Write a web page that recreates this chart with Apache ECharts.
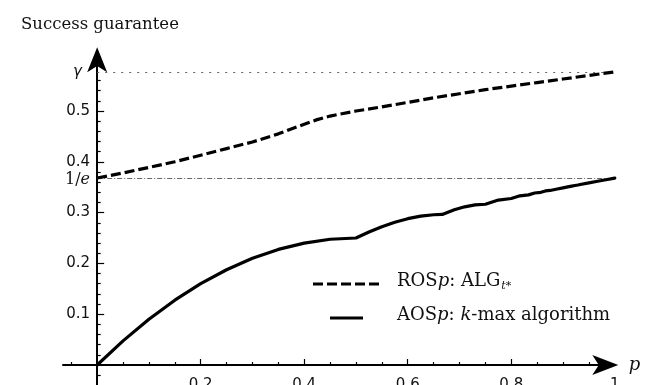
<!DOCTYPE html>
<html>
<head>
<meta charset="utf-8">
<script src="https://cdn.jsdelivr.net/npm/echarts@6/dist/echarts.min.js"></script>
<style>html,body{margin:0;padding:0;background:#fff}#c{width:653px;height:385px}</style>
</head>
<body>
<div id="c"></div>
<script>
// ---- data ----
const GAMMA = 0.577;
const INV_E = 0.3679;

const rosP = [0, 0.05, 0.1, 0.15, 0.2, 0.25, 0.3, 0.35, 0.4, 0.425, 0.45, 0.5, 0.55, 0.6, 0.65, 0.7, 0.75, 0.8, 0.85, 0.9, 0.95, 1.0];
const rosV = [0.368, 0.378, 0.389, 0.400, 0.413, 0.426, 0.439, 0.455, 0.474, 0.483, 0.490, 0.500, 0.508, 0.517, 0.526, 0.534, 0.542, 0.549, 0.556, 0.563, 0.570, 0.577];

const aosP = [0, 0.05, 0.1, 0.15, 0.2, 0.25, 0.3, 0.35, 0.4, 0.45, 0.5, 0.525, 0.55, 0.575, 0.6, 0.625, 0.65, 0.6667, 0.69, 0.71, 0.73, 0.75, 0.775, 0.8, 0.8167, 0.8333, 0.8452, 0.8571, 0.866, 0.875, 0.8889, 0.9, 0.9091, 0.9167, 0.9231, 0.9286, 0.9333, 0.95, 0.9667, 0.98, 1.0];
const aosV = [0, 0.0475, 0.09, 0.1275, 0.16, 0.1875, 0.21, 0.2275, 0.24, 0.2475, 0.25, 0.2618, 0.2723, 0.2810, 0.288, 0.2930, 0.2958, 0.2963, 0.3055, 0.3114, 0.3151, 0.3164, 0.3247, 0.3277, 0.3330, 0.3349, 0.3386, 0.3399, 0.3426, 0.3436, 0.3464, 0.3487, 0.3505, 0.3520, 0.3533, 0.3543, 0.3553, 0.3585, 0.3617, 0.3642, 0.3679];

const xMajorTicks = [0.2, 0.4, 0.6, 0.8];
const xMinorTicks = [-0.05, 0.05, 0.1, 0.15, 0.25, 0.3, 0.35, 0.45, 0.5, 0.55, 0.65, 0.7, 0.75, 0.85, 0.9, 0.95];
const xTickLabels = [0.2, 0.4, 0.6, 0.8, 1];
const yMajorTicks = [0.1, 0.2, 0.3, 0.4, 0.5];
const yMinorTicks = [-0.02, 0.02, 0.04, 0.06, 0.08, 0.12, 0.14, 0.16, 0.18, 0.22, 0.24, 0.26, 0.28, 0.32, 0.34, 0.36, 0.38, 0.42, 0.44, 0.46, 0.48, 0.52, 0.54, 0.56];
const yTickLabels = [0.1, 0.2, 0.3, 0.4, 0.5, INV_E, GAMMA];

const seriesNames = ['ROSp: ALG_t*', 'AOSp: k-max algorithm'];

const pairs = (xs, ys) => xs.map((x, i) => [x, ys[i]]);

const X_MIN = -0.066, X_MAX = 1.0, Y_MIN = -0.0394, Y_MAX = 0.6;
const SANS = 'DejaVu Sans';
const SERIF = 'DejaVu Serif';

const chart = echarts.init(document.getElementById('c'), null, {renderer: 'canvas'});

const xBase = {
  type: 'value', min: X_MIN, max: X_MAX, position: 'bottom',
  splitLine: {show: false}
};
const yBase = {
  type: 'value', min: Y_MIN, max: Y_MAX, position: 'left',
  splitLine: {show: false}
};

chart.setOption({
  animation: false,
  backgroundColor: '#fff',
  title: {
    text: 'Success guarantee', left: 16, top: 11,
    textStyle: {fontFamily: SERIF, fontSize: 16.5, fontWeight: 'normal', color: '#111'}
  },
  grid: {left: 63, right: 38.2, top: 60.2, bottom: 0, containLabel: false, outerBoundsMode: 'none'},
  xAxis: [
    Object.assign({}, xBase, {
      name: 'p', nameLocation: 'end', nameGap: 14,
      nameTextStyle: {fontFamily: SERIF, fontStyle: 'italic', fontSize: 18, color: '#111', verticalAlign: 'middle', padding: [4, 0, 0, 0]},
      axisLine: {show: true, onZero: true, onZeroAxisIndex: 0, lineStyle: {color: '#000', width: 2},
        symbol: ['none', 'arrow'], symbolSize: [15, 26], symbolOffset: [0, 3.5]},
      axisTick: {show: true, inside: true, length: 6, customValues: xMajorTicks, lineStyle: {color: '#000', width: 1.2}},
      axisLabel: {show: true, margin: -7, customValues: xTickLabels, fontFamily: SANS, fontSize: 15, color: '#111',
        hideOverlap: false,
        formatter: v => (v === 1 ? '1' : v.toFixed(1))}
    }),
    Object.assign({}, xBase, {
      axisLine: {show: false, onZero: true, onZeroAxisIndex: 0},
      axisTick: {show: true, inside: true, length: 3, customValues: xMinorTicks, lineStyle: {color: '#000', width: 1.2}},
      axisLabel: {show: false}
    })
  ],
  yAxis: [
    Object.assign({}, yBase, {
      axisLine: {show: true, onZero: true, onZeroAxisIndex: 0, lineStyle: {color: '#000', width: 2},
        symbol: ['none', 'arrow'], symbolSize: [15, 25], symbolOffset: [0, 13]},
      axisTick: {show: true, inside: true, length: 7, customValues: yMajorTicks, lineStyle: {color: '#000', width: 1.2}},
      axisLabel: {show: true, margin: -27, customValues: yTickLabels, fontFamily: SANS, fontSize: 15, color: '#111',
        formatter: function (v) {
          if (Math.abs(v - INV_E) < 1e-6) return '{e|1/}{ei|e}';
          if (Math.abs(v - GAMMA) < 1e-6) return '{g|γ}';
          return v.toFixed(1);
        },
        rich: {
          e: {fontFamily: SERIF, fontSize: 16, color: '#111', padding: [4, 0, 0, 0]},
          ei: {fontFamily: SERIF, fontStyle: 'italic', fontSize: 16, color: '#111', padding: [4, 0, 0, 0]},
          g: {fontFamily: SANS, fontStyle: 'italic', fontSize: 15, color: '#111', padding: [0, 8, 0, 0]}
        }
      }
    }),
    Object.assign({}, yBase, {
      axisLine: {show: false, onZero: true, onZeroAxisIndex: 0},
      axisTick: {show: true, inside: true, length: 3.5, customValues: yMinorTicks, lineStyle: {color: '#000', width: 1.2}},
      axisLabel: {show: false}
    })
  ],
  series: [
    {
      name: seriesNames[0], type: 'line', xAxisIndex: 0, yAxisIndex: 0,
      data: pairs(rosP, rosV), showSymbol: false, symbol: 'none', clip: false, z: 5,
      lineStyle: {color: '#000', width: 3.2, type: [10, 4], cap: 'butt'},
      markLine: {
        silent: true, symbol: 'none', label: {show: false}, z: 1,
        data: [
          [{coord: [0, GAMMA], lineStyle: {color: '#666', width: 1, type: [2, 6]}}, {coord: [1, GAMMA]}],
          [{coord: [0, INV_E], lineStyle: {color: '#666', width: 1, type: [5, 2, 1, 2]}}, {coord: [1, INV_E]}]
        ]
      }
    },
    {
      name: seriesNames[1], type: 'line', xAxisIndex: 0, yAxisIndex: 0,
      data: pairs(aosP, aosV), showSymbol: false, symbol: 'none', clip: false, z: 5,
      lineStyle: {color: '#000', width: 3.2, cap: 'round', join: 'round'}
    }
  ],
  graphic: [
    {type: 'line', shape: {x1: 313, y1: 284, x2: 380, y2: 284}, style: {stroke: '#000', lineWidth: 3.2, lineDash: [10, 4]}},
    {type: 'line', shape: {x1: 330, y1: 318, x2: 363, y2: 318}, style: {stroke: '#000', lineWidth: 3.2}},
    {type: 'text', left: 397, top: 272, style: {
      text: '{r|ROS}{i|p}{r|: ALG}{s|t*}',
      rich: {
        r: {fontFamily: SERIF, fontSize: 18, fill: '#111'},
        i: {fontFamily: SERIF, fontStyle: 'italic', fontSize: 18, fill: '#111'},
        s: {fontFamily: SERIF, fontStyle: 'italic', fontSize: 11, fill: '#111', padding: [10, 0, 0, 1]}
      }
    }},
    {type: 'text', left: 397, top: 306, style: {
      text: '{r|AOS}{i|p}{r|: }{i|k}{r|-max algorithm}',
      rich: {
        r: {fontFamily: SERIF, fontSize: 18, fill: '#111'},
        i: {fontFamily: SERIF, fontStyle: 'italic', fontSize: 18, fill: '#111'}
      }
    }}
  ]
});
</script>
</body>
</html>
